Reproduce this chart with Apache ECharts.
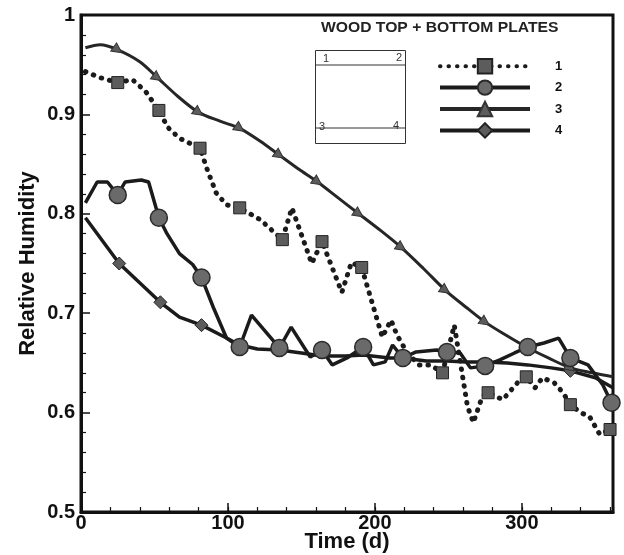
<!DOCTYPE html>
<html><head><meta charset="utf-8">
<script src="https://cdn.jsdelivr.net/npm/echarts@6/dist/echarts.min.js"></script>
<style>html,body{margin:0;padding:0;background:#fff}#c{width:624px;height:555px}</style>
</head><body><div id="c"></div>
<script>
// ---- data ----
const xLabels = [0, 100, 200, 300];
const yLabels = [0.5, 0.6, 0.7, 0.8, 0.9, 1];
const seriesNames = ['1', '2', '3', '4'];

// Series 1: dotted, squares
const s1x = [3, 13, 25, 35, 44, 53, 59, 67, 81, 86, 92, 99, 108, 122, 137, 143.5, 157, 164, 177.5, 184, 191, 201, 205, 211, 215, 222, 230, 238, 246, 254, 263, 267, 273, 277, 287, 297, 303, 309, 314, 322, 328, 333, 340, 346, 353, 360, 362];
const s1y = [0.943, 0.937, 0.932, 0.935, 0.923, 0.904, 0.887, 0.876, 0.866, 0.844, 0.821, 0.809, 0.806, 0.794, 0.774, 0.806, 0.750, 0.772, 0.721, 0.751, 0.746, 0.696, 0.676, 0.693, 0.678, 0.660, 0.648, 0.648, 0.640, 0.688, 0.606, 0.590, 0.616, 0.620, 0.613, 0.630, 0.636, 0.625, 0.635, 0.630, 0.620, 0.608, 0.600, 0.596, 0.578, 0.583, 0.576];
const s1m = [25, 53, 81, 108, 137, 164, 191, 246, 277, 303, 333, 360];

// Series 2: solid, circles
const s2x = [3, 11, 18, 25, 30, 41, 46, 53, 58.5, 67, 76, 82, 90, 99, 108, 116, 135, 143, 156, 164, 171, 181, 192, 199, 207, 212, 219, 228, 242, 249, 258, 265, 275, 285, 295, 304, 315, 325, 333, 345, 355, 361, 362];
const s2y = [0.811, 0.832, 0.832, 0.819, 0.832, 0.834, 0.832, 0.796, 0.780, 0.760, 0.749, 0.736, 0.706, 0.675, 0.666, 0.698, 0.665, 0.686, 0.656, 0.663, 0.648, 0.655, 0.666, 0.648, 0.651, 0.668, 0.655, 0.661, 0.663, 0.661, 0.660, 0.645, 0.647, 0.653, 0.660, 0.666, 0.670, 0.675, 0.655, 0.648, 0.628, 0.610, 0.605];
const s2m = [25, 53, 82, 108, 135, 164, 192, 219, 249, 275, 304, 333, 361];

// Series 3: solid, triangles
const s3x = [3, 13, 25, 40, 52, 66, 80, 95, 108, 122, 135, 148, 161, 175, 189, 204, 218, 233, 248, 262, 275, 289, 303, 318, 333, 348, 362];
const s3y = [0.967, 0.970, 0.965, 0.953, 0.937, 0.918, 0.902, 0.893, 0.886, 0.873, 0.859, 0.845, 0.832, 0.816, 0.800, 0.783, 0.766, 0.745, 0.723, 0.706, 0.691, 0.678, 0.666, 0.655, 0.645, 0.640, 0.636];
const s3m = [25, 52, 80, 108, 135, 161, 189, 218, 248, 275, 303, 333];

// Series 4: solid, diamonds
const s4x = [3, 26, 54, 67, 82, 99, 108, 120, 135, 150, 164, 180, 192, 210, 219, 235, 249, 262, 275, 290, 304, 320, 333, 350, 362];
const s4y = [0.796, 0.750, 0.711, 0.696, 0.688, 0.675, 0.668, 0.664, 0.663, 0.660, 0.657, 0.657, 0.658, 0.655, 0.655, 0.652, 0.652, 0.651, 0.651, 0.650, 0.648, 0.645, 0.642, 0.635, 0.625];
const s4m = [26, 54, 82, 333];

// ---- chart ----
function build(xs, ys, marks) {
  return xs.map((x, i) => marks.includes(x) ? [x, ys[i]] : { value: [x, ys[i]], symbol: 'none' });
}
const FONT = 'Liberation Sans, Arial, sans-serif';
const lineCol = '#1b1b1b';
const markFill = '#5c5c5c';

const chart = echarts.init(document.getElementById('c'), null, { renderer: 'canvas' });
chart.setOption({
  animation: false,
  backgroundColor: '#fff',
  grid: { left: 81, right: 11, top: 15, bottom: 43, show: true, borderColor: '#111', borderWidth: 3, backgroundColor: 'transparent',
    containLabel: false, outerBoundsMode: 'none' },
  xAxis: [{
    type: 'value', min: 0, max: 362, interval: 100,
    axisLine: { show: true, onZero: false, lineStyle: { color: '#111', width: 3 } },
    axisTick: { inside: true, length: 9, lineStyle: { color: '#111', width: 1.5 } },
    axisLabel: { showMaxLabel: false, margin: 1, color: '#111', fontFamily: FONT, fontWeight: 'bold', fontSize: 20,
      formatter: v => xLabels.includes(v) ? String(v) : '' },
    splitLine: { show: false },
    name: 'Time (d)', nameLocation: 'middle', nameGap: 19, nameMoveOverlap: false,
    nameTextStyle: { color: '#111', fontFamily: FONT, fontWeight: 'bold', fontSize: 22, verticalAlign: 'top' }
  }, {
    type: 'value', min: 0, max: 362, interval: 20, position: 'bottom',
    axisLine: { show: false },
    axisTick: { inside: true, length: 5, lineStyle: { color: '#111', width: 1.2 } },
    axisLabel: { show: false }, splitLine: { show: false }
  }],
  yAxis: {
    type: 'value', min: 0.5, max: 1, interval: 0.1,
    axisLine: { show: true, onZero: false, lineStyle: { color: '#111', width: 3 } },
    axisTick: { inside: true, length: 9, lineStyle: { color: '#111', width: 1.5 } },
    minorTick: { show: true, splitNumber: 5, length: 5, lineStyle: { color: '#111', width: 1.2 } },
    axisLabel: { margin: 6, color: '#111', fontFamily: FONT, fontWeight: 'bold', fontSize: 20,
      formatter: v => { const r = Math.round(v * 10) / 10; return yLabels.includes(r) ? (r === 1 ? '1' : r.toFixed(1)) : ''; } },
    splitLine: { show: false },
    name: 'Relative Humidity', nameLocation: 'middle', nameGap: 42, nameMoveOverlap: false,
    nameTextStyle: { color: '#111', fontFamily: FONT, fontWeight: 'bold', fontSize: 22 }
  },
  legend: {
    orient: 'vertical', left: 433, top: 53, itemWidth: 90, itemHeight: 18, itemGap: 5,
    data: seriesNames, selectedMode: false, symbolRotate: 0,
    lineStyle: { width: 4 },
    textStyle: { color: '#111', fontFamily: FONT, fontWeight: 'bold', fontSize: 13, padding: [0, 0, 0, 20] }
  },
  graphic: [
    { type: 'text', x: 321, y: 21, scaleX: 1.12, style: { text: 'WOOD TOP + BOTTOM PLATES', font: 'bold 14px Liberation Sans, Arial', fill: '#222' } },
    { type: 'rect', shape: { x: 315.5, y: 50.5, width: 90, height: 93 }, style: { fill: 'none', stroke: '#333', lineWidth: 1 } },
    { type: 'line', shape: { x1: 315, y1: 65, x2: 406, y2: 65 }, style: { stroke: '#333', lineWidth: 1 } },
    { type: 'line', shape: { x1: 315, y1: 128, x2: 406, y2: 128 }, style: { stroke: '#333', lineWidth: 1 } },
    { type: 'text', x: 323, y: 53, style: { text: '1', font: '11px Liberation Sans, Arial', fill: '#333' } },
    { type: 'text', x: 396, y: 52, style: { text: '2', font: '11px Liberation Sans, Arial', fill: '#333' } },
    { type: 'text', x: 319, y: 121, style: { text: '3', font: '11px Liberation Sans, Arial', fill: '#333' } },
    { type: 'text', x: 393, y: 120, style: { text: '4', font: '11px Liberation Sans, Arial', fill: '#333' } }
  ],
  series: [
    { name: '4', type: 'line', z: 2, data: build(s4x, s4y, s4m), symbol: 'diamond', symbolSize: 13,
      lineStyle: { color: lineCol, width: 3.5 }, itemStyle: { color: markFill, borderColor: '#222', borderWidth: 1 } },
    { name: '3', type: 'line', z: 3, data: build(s3x, s3y, s3m), symbol: 'triangle', symbolSize: 10, symbolRotate: -125, smooth: 0.3,
      lineStyle: { color: '#262626', width: 3 }, itemStyle: { color: markFill, borderColor: '#333', borderWidth: 1 } },
    { name: '1', type: 'line', z: 4, data: build(s1x, s1y, s1m), symbol: 'rect', symbolSize: 12,
      lineStyle: { color: lineCol, width: 5, type: [0.5, 8], cap: 'round' }, itemStyle: { color: markFill, borderColor: '#222', borderWidth: 1 } },
    { name: '2', type: 'line', z: 5, data: build(s2x, s2y, s2m), symbol: 'circle', symbolSize: 17,
      lineStyle: { color: lineCol, width: 3.5 }, itemStyle: { color: '#6a6a6a', borderColor: '#2a2a2a', borderWidth: 1.5 } }
  ]
});
</script></body></html>
